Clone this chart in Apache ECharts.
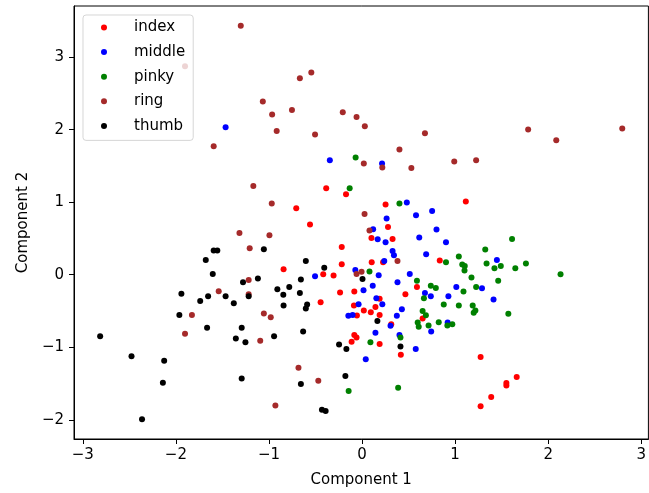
<!DOCTYPE html>
<html><head><meta charset="utf-8">
<script src="https://cdn.jsdelivr.net/npm/echarts@6/dist/echarts.min.js"></script>
<style>html,body{margin:0;padding:0;background:#fff}#c{width:649px;height:493px}</style>
</head><body><div id="c"></div>
<script>
const categories = ['index','middle','pinky','ring','thumb'];
const colors = ['#ff0000','#0000ff','#008000','#a52a2a','#000000'];
const xTicks = [-3,-2,-1,0,1,2,3];
const yTicks = [-2,-1,0,1,2,3];

const index = [[-0.385,1.191],[-0.172,1.109],[-0.707,0.916],[0.253,0.967],[1.115,1.008],[-0.559,0.691],[0.279,0.658],[0.101,0.507],[0.328,0.493],[-0.218,0.383],[-0.218,0.145],[0.104,0.172],[0.226,0.172],[0.835,0.196],[-0.843,0.076],[-0.417,0.007],[-0.306,-0.011],[0.590,-0.168],[-0.236,-0.245],[-0.083,-0.231],[0.466,-0.269],[0.189,-0.333],[-0.445,-0.379],[-0.087,-0.424],[0.144,-0.444],[0.019,-0.493],[0.094,-0.517],[0.189,-0.554],[-0.055,-0.562],[0.651,-0.603],[-0.083,-0.833],[-0.112,-0.926],[-0.059,-0.865],[0.314,-0.682],[0.189,-0.957],[0.417,-1.105],[1.274,-1.136],[1.662,-1.412],[1.551,-1.494],[1.551,-1.526],[1.388,-1.687],[1.274,-1.815]];
const middle = [[-1.466,2.032],[-0.346,1.577],[0.215,1.532],[0.481,0.994],[0.580,0.820],[0.753,0.879],[0.264,0.774],[0.119,0.627],[0.800,0.623],[0.168,0.489],[0.253,0.448],[0.615,0.512],[0.902,0.448],[0.328,0.328],[0.343,0.269],[0.689,0.282],[0.239,0.190],[1.449,0.204],[-0.072,0.066],[-0.505,-0.021],[0.179,-0.007],[0.513,0.011],[0.115,-0.154],[0.381,-0.103],[1.013,-0.168],[1.289,-0.186],[0.016,-0.213],[0.676,-0.251],[0.739,-0.296],[0.928,-0.296],[1.413,-0.342],[0.154,-0.324],[0.218,-0.406],[-0.037,-0.406],[0.428,-0.475],[0.374,-0.567],[-0.147,-0.567],[-0.101,-0.554],[0.920,-0.658],[0.306,-0.705],[0.144,-0.802],[0.402,-0.833],[0.743,-0.782],[0.577,-1.026],[0.040,-1.164]];
const pinky = [[-0.069,1.614],[-0.133,1.191],[0.402,0.981],[1.612,0.493],[1.324,0.347],[1.040,0.251],[1.077,0.140],[1.104,0.121],[1.101,0.058],[1.338,0.154],[1.423,0.090],[1.491,0.121],[1.647,0.090],[1.761,0.154],[2.133,0.007],[1.176,-0.039],[1.463,-0.085],[1.226,-0.168],[1.090,-0.231],[1.040,-0.424],[1.189,-0.424],[1.218,-0.493],[1.200,-0.526],[1.572,-0.540],[0.902,0.172],[0.080,0.044],[0.590,-0.085],[0.739,-0.154],[0.793,-0.182],[0.665,-0.324],[0.878,-0.410],[0.651,-0.499],[0.686,-0.558],[0.598,-0.658],[0.609,-0.719],[0.715,-0.700],[0.824,-0.654],[0.970,-0.682],[0.917,-0.700],[0.090,-0.930],[0.413,-0.865],[-0.144,-1.605],[0.388,-1.559]];
const ring = [[-1.902,2.872],[-1.594,1.770],[-1.303,3.433],[-0.668,2.707],[-0.545,2.789],[-1.066,2.386],[-0.966,2.207],[-0.753,2.270],[-0.917,1.981],[-0.505,1.931],[-0.207,2.238],[-0.059,2.174],[0.030,2.045],[0.676,1.949],[0.402,1.725],[0.019,1.532],[0.218,1.477],[0.530,1.471],[1.785,2.000],[2.087,1.853],[2.796,2.014],[0.991,1.559],[1.226,1.577],[-1.168,1.223],[-0.970,0.981],[-1.317,0.576],[-0.995,0.544],[-1.207,0.365],[-1.218,-0.072],[-1.540,-0.227],[-1.218,-0.269],[-1.828,-0.554],[-1.055,-0.534],[-0.981,-0.585],[-1.902,-0.815],[-1.094,-0.912],[-0.683,-1.284],[-0.470,-1.463],[-0.931,-1.802],[0.027,0.837],[0.080,0.609],[0.381,0.190],[-0.059,0.011],[-0.005,0.039]];
const thumb = [[-1.055,0.351],[-1.594,0.333],[-1.555,0.333],[-1.679,0.204],[-1.604,0.011],[-1.279,-0.103],[-1.119,-0.052],[-0.910,-0.200],[-1.941,-0.264],[-1.654,-0.296],[-1.466,-0.296],[-1.218,-0.296],[-1.739,-0.361],[-1.378,-0.393],[-1.963,-0.554],[-1.665,-0.730],[-1.293,-0.730],[-2.814,-0.847],[-1.356,-0.879],[-1.253,-0.930],[-0.945,-0.847],[-0.633,-0.782],[-2.477,-1.123],[-2.126,-1.187],[-2.140,-1.490],[-1.293,-1.430],[-0.657,-1.508],[-0.247,-0.961],[-0.168,-1.026],[-0.179,-1.398],[-0.431,-1.862],[-0.391,-1.880],[-2.364,-1.994],[-0.604,0.190],[-0.406,0.094],[0.005,-0.058],[-0.657,-0.066],[-0.782,-0.168],[-0.846,-0.278],[-0.668,-0.251],[-0.843,-0.424],[-0.590,-0.410],[-0.604,-0.466],[0.165,-0.640],[0.413,-0.989]];
const seriesData = [index, middle, pinky, ring, thumb];

const FONT = 'DejaVu Sans';
const fmt = v => (v < 0 ? '\u2212' + Math.abs(v) : String(v));
const chart = echarts.init(document.getElementById('c'), null, {renderer:'canvas'});
chart.setOption({
  animation: false,
  backgroundColor: '#fff',
  grid: {left: 74, top: 6, width: 580, height: 433, show: true, borderColor: '#000', borderWidth: 1, backgroundColor: 'transparent'},
  xAxis: {
    type: 'value', min: -3.095, max: 3.077,
    name: 'Component 1', nameLocation: 'middle', nameGap: 34,
    nameTextStyle: {fontFamily: FONT, fontSize: 15, color: '#000'},
    axisLine: {show: true, onZero: false, lineStyle: {color: '#000', width: 1}},
    axisTick: {show: true, length: 5, lineStyle: {color: '#000'}, customValues: xTicks},
    axisLabel: {fontFamily: FONT, fontSize: 15, color: '#000', margin: 9, customValues: xTicks, formatter: fmt},
    splitLine: {show: false}
  },
  yAxis: {
    type: 'value', min: -2.265, max: 3.704,
    name: 'Component 2', nameLocation: 'middle', nameGap: 43, nameRotate: 90,
    nameTextStyle: {fontFamily: FONT, fontSize: 15, color: '#000'},
    axisLine: {show: true, onZero: false, lineStyle: {color: '#000', width: 1}},
    axisTick: {show: true, length: 5, lineStyle: {color: '#000'}, customValues: yTicks},
    axisLabel: {fontFamily: FONT, fontSize: 15, color: '#000', margin: 10, customValues: yTicks, formatter: fmt},
    splitLine: {show: false}
  },
  legend: {
    show: true, orient: 'vertical', left: 83, top: 15, z: 20,
    data: categories,
    icon: 'circle', itemWidth: 6, itemHeight: 6, itemGap: 9.6,
    padding: [5, 8, 7, 18],
    backgroundColor: 'rgba(255,255,255,0.8)', borderColor: 'rgba(204,204,204,0.8)', borderWidth: 1, borderRadius: 3,
    textStyle: {fontFamily: FONT, fontSize: 15, color: '#000', lineHeight: 15, padding: [0,0,0,22]}
  },
  series: categories.map((name, i) => ({
    name, type: 'scatter', data: seriesData[i], symbol: 'circle', symbolSize: 6, z: 2,
    itemStyle: {color: colors[i], opacity: 1}
  }))
});
</script></body></html>
